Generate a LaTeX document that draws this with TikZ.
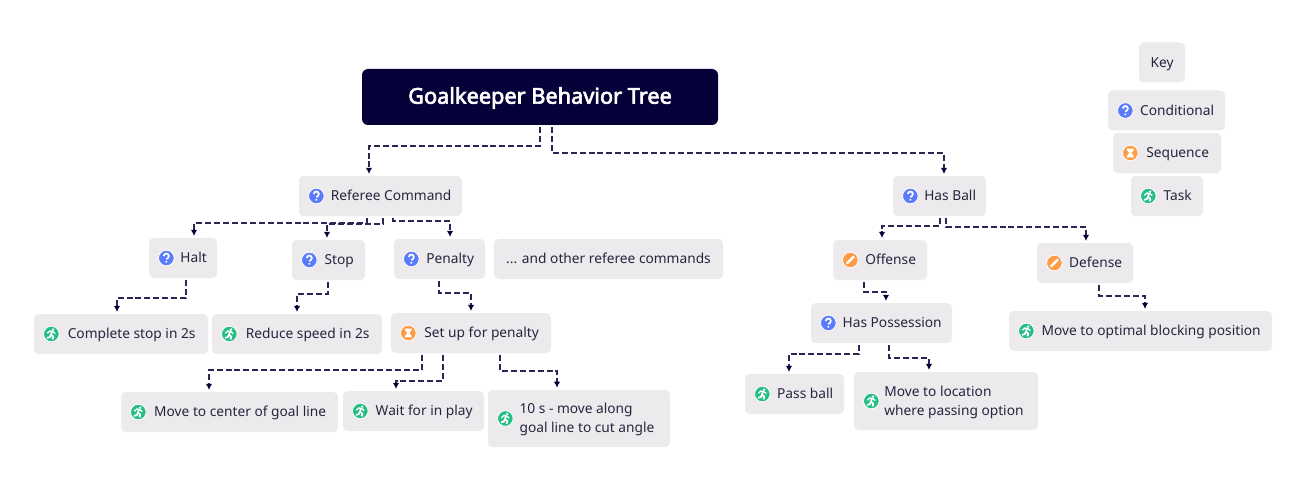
\documentclass[tikz,border=0pt]{standalone}
\usepackage{fontspec}
\usepackage{xcolor}
\usetikzlibrary{arrows.meta}
\setmainfont{Noto Sans}
\newfontfamily\titlefont{Noto Sans}[FakeBold=3]
\definecolor{treenavy}{HTML}{050038}
\definecolor{treeink}{HTML}{25253F}
\definecolor{treebox}{HTML}{ECEAED}
\definecolor{iconblue}{HTML}{5B7CFA}
\definecolor{iconorange}{HTML}{FD9C45}
\definecolor{icongreen}{HTML}{27BE85}
\newcommand{\lbl}[2][16pt]{\hspace*{#1}\raisebox{-3.3pt}[0pt][0pt]{\begin{tabular}[c]{@{}l@{}}#2\end{tabular}}}
\tikzset{
  box/.style={fill=treebox, text=treeink, rounded corners=3.5pt, inner sep=0pt, outer sep=1.5pt,
    minimum width=#1*0.75pt, minimum height=30pt, font=\fontsize{10.3}{14}\selectfont},
  link/.style={treenavy!85!white, line width=0.95pt, dash pattern=on 4.5pt off 2.2pt, -{Latex[length=4.6pt,width=4.8pt,color=treenavy]}},
  iconring/.style={draw=white, line width=0.6pt},
  pics/iconq/.style={code={
    \filldraw[iconring, fill=iconblue] (0,0) circle (7.8);
    \draw[white, line width=1.3pt] (-2.5,2) arc[start angle=180, end angle=-50, radius=2.5] -- (0,-1.2);
    \fill[white] (0,-3.8) circle (1.1);
  }},
  pics/iconseq/.style={code={
    \filldraw[iconring, fill=iconorange] (0,0) circle (7.8);
    \fill[white] (-3.4,4.4) -- (3.4,4.4) -- (3.4,3) -- (1.1,0) -- (3.4,-3) -- (3.4,-4.4) -- (-3.4,-4.4) -- (-3.4,-3) -- (-1.1,0) -- (-3.4,3) -- cycle;
  }},
  pics/iconpen/.style={code={
    \filldraw[iconring, fill=iconorange] (0,0) circle (7.8);
    \draw[white, line width=1.8pt] (-3.6,-3.6) -- (3.6,3.6);
  }},
  pics/icontask/.style={code={
    \filldraw[iconring, fill=icongreen] (0,0) circle (7.8);
    \fill[white] (1.8,4.4) circle (1.3);
    \draw[white, line width=1pt, line join=round] (-4,0.8) -- (-1.4,3) -- (1.4,2.4) -- (4,0.4);
    \draw[white, line width=1.3pt, line join=round] (0.6,2.4) -- (-0.4,-0.8) -- (2,-2.6) -- (1.2,-5.4);
    \draw[white, line width=1.3pt, line join=round] (-0.4,-0.8) -- (-1.6,-3.2) -- (-4.4,-3.8);
  }}
}

\begin{document}
\begin{tikzpicture}[x=0.75pt, y=0.75pt, line cap=butt]
  \useasboundingbox (0,0) rectangle (1315,-492);
  % title
  \node[fill=treenavy, text=white, rounded corners=4.5pt, outer sep=1.5pt, inner sep=0pt, minimum width=267pt, minimum height=42pt,
    font=\fontsize{16.3}{20}\titlefont] (title) at (540,-97) {\raisebox{-5pt}[0pt][0pt]{Goalkeeper Behavior Tree}};
  % key
  \node[box=46] (key) at (1162,-62.5) {\lbl[0pt]{Key}};
  \node[box=117] (cond) at (1166.5,-110.5) {\lbl{Conditional}};
  \node[box=108] (seq) at (1167,-153) {\lbl{Sequence}};
  \node[box=72] (task) at (1167,-196) {\lbl{Task}};
  % left branch
  \node[box=163] (refcmd) at (380.5,-196) {\lbl{Referee Command}};
  \node[box=68] (halt) at (183,-258) {\lbl{Halt}};
  \node[box=73] (stop) at (328.5,-260) {\lbl{Stop}};
  \node[box=91] (penalty) at (439.5,-259) {\lbl{Penalty}};
  \node[box=229] (others) at (608.5,-259) {\lbl[0pt]{... and other referee commands}};
  \node[box=174] (complete) at (121,-334) {\lbl{Complete stop in 2s}};
  \node[box=170] (reduce) at (297,-334) {\lbl{Reduce speed in 2s}};
  \node[box=160] (setup) at (471,-333) {\lbl{Set up for penalty}};
  \node[box=217] (center) at (229.5,-412) {\lbl{Move to center of goal line}};
  \node[box=141] (wait) at (413.5,-411) {\lbl{Wait for in play}};
  \node[box=182, minimum height=43pt] (cutangle) at (579,-418.5) {\lbl[12pt]{10 s - move along\\goal line to cut angle}};
  % right branch
  \node[box=93] (hasball) at (939.5,-196) {\lbl{Has Ball}};
  \node[box=94] (offense) at (880,-260) {\lbl{Offense}};
  \node[box=96] (defense) at (1085,-263) {\lbl{Defense}};
  \node[box=141] (haspos) at (881.5,-323) {\lbl{Has Possession}};
  \node[box=263] (optimal) at (1140.5,-331) {\lbl{Move to optimal blocking position}};
  \node[box=99] (passball) at (794.5,-394) {\lbl{Pass ball}};
  \node[box=184, minimum height=43.5pt] (moveto) at (946,-401) {\lbl[12pt]{Move to location\\where passing option}};
  % icons
  \foreach \n in {cond,refcmd,halt,stop,penalty,hasball,haspos} { \pic at ([xshift=14.5pt]\n.west) {iconq}; }
  \foreach \n in {seq,setup} { \pic at ([xshift=14.5pt]\n.west) {iconseq}; }
  \foreach \n in {offense,defense} { \pic at ([xshift=14.5pt]\n.west) {iconpen}; }
  \foreach \n in {task,complete,reduce,center,wait,cutangle,optimal,passball,moveto} { \pic at ([xshift=14.5pt]\n.west) {icontask}; }
  % connectors
  \foreach \a/\ax/\dy/\b/\bx in {title/0/19/refcmd/-11.5, title/12/26/hasball/4.5,
    refcmd/-13.5/5/halt/11, refcmd/2.5/6/stop/-1.5, refcmd/12.5/3/penalty/10.5,
    halt/3/18/complete/-4, stop/-0.5/12/reduce/0, penalty/-0.5/12/setup/0,
    setup/-49/15/center/-20.5, setup/-28/26/wait/-17.5, setup/29/16/cutangle/-22,
    hasball/0.5/8/offense/2, hasball/6.5/9/defense/1, offense/-16/10/haspos/4.5,
    haspos/-22.5/9/passball/-5.5, haspos/7.5/13/moveto/-17, defense/14/11/optimal/4.5}
    { \draw[link] ([xshift=\ax*0.75pt]\a.south) -- ++(0,-\dy) -| ([xshift=\bx*0.75pt]\b.north); }
\end{tikzpicture}
\end{document}
